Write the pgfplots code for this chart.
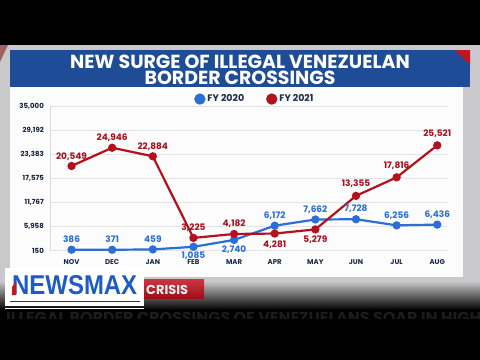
\documentclass[border=0pt]{standalone}
\usepackage{fontspec}
\setmainfont{Poppins}
\newfontfamily\arialfont{Liberation Sans}
\usepackage{graphicx}
\usepackage{pgfplots}
\pgfplotsset{compat=1.18}
\usepackage{pgfplotstable}

\definecolor{fyblue}{HTML}{2A6FD6}
\definecolor{fyred}{HTML}{B3111D}
\definecolor{lblred}{HTML}{A5101B}
\definecolor{banner}{HTML}{1F4C97}
\definecolor{navy}{HTML}{1B2B4B}
\definecolor{nmblue}{HTML}{1E5BC6}
\definecolor{crisisred}{HTML}{C3141F}
\definecolor{studio}{HTML}{C9C9CC}
\definecolor{ghost}{HTML}{1C1C1C}

\pgfplotstableread{
x y lab
0 386 386
1 371 371
2 459 459
3 1085 1,085
4 2740 2,740
5 6172 6,172
6 7662 7,662
7 7728 7,728
8 6256 6,256
9 6436 6,436
}\fyA

\pgfplotstableread{
x y lab
0 20549 20,549
1 24946 24,946
2 22884 22,884
3 3225 3,225
4 4182 4,182
5 4281 4,281
6 5279 5,279
7 13355 13,355
8 17816 17,816
9 25521 25,521
}\fyB

\pgfplotsset{
  lbl/.style 2 args={draw=none, mark=none, forget plot,
    nodes near coords, point meta=explicit symbolic,
    every node near coord/.append style={anchor=base, yshift=#2bp, inner sep=0pt, text=#1,
      font=\bfseries\fontsize{9}{10}\selectfont}},
}

\begin{document}
\begin{tikzpicture}
\useasboundingbox (0bp,0bp) rectangle (480bp,-360bp);
\begin{scope}[x=1bp,y=-1bp]
  % studio background
  \fill[black] (0,0) rectangle (480,360);
  \fill[studio] (0,45) rectangle (480,282);
  \shade[top color=studio, bottom color=black] (0,281) rectangle (480,310);
  \fill[red!45!black, opacity=0.5] (0,45) -- (8,45) -- (0,62) -- cycle;
  % white panel
  \fill[white!98!gray] (10,86) rectangle (463,277);
  % banner
  \fill[banner] (10,50) rectangle (470,86.7);
  \fill[crisisred] (455,50) -- (470,50) -- (470,65) -- cycle;
  \node[anchor=base, text=white, align=center, font=\bfseries\fontsize{19}{16.5}\selectfont, inner sep=0pt] at (240,84.5) {NEW SURGE OF ILLEGAL VENEZUELAN\\BORDER CROSSINGS};
  % ghost ticker
  \begin{scope}
    \clip (0,308) rectangle (480,318);
    \node[anchor=base west, text=ghost, font=\bfseries\fontsize{16}{16}\selectfont, inner sep=0pt] at (6,323) {ILLEGAL BORDER CROSSINGS OF VENEZUELANS SOAR IN HIGH};
  \end{scope}
  % CRISIS tag
  \shade[top color=crisisred!85!white, bottom color=crisisred!80!black] (144,279) rectangle (204,298);
  \node[anchor=base west, text=white!88!gray, font=\bfseries\fontsize{13}{13}\selectfont, inner sep=0pt] at (146,294) {CRISIS};
  % NEWSMAX logo
  \fill[white] (5,268) rectangle (144,306);
  \node[anchor=base west, text=nmblue, inner sep=0pt] at (12,295) {\resizebox{125bp}{19bp}{\arialfont\bfseries NEWSMAX}};
  \fill[crisisred] (12,287) -- (16,282) -- (16,295) -- (12,295) -- cycle;
  \draw[crisisred!70!black, line width=0.8bp] (10,301) -- (140,301);
  \draw[white, line width=0.6bp] (5,308.5) -- (144,308.5);
\end{scope}

\begin{axis}[
  at={(50bp,-250.7bp)}, anchor=south west,
  scale only axis, width=397bp, height=144.7bp,
  xmin=-0.53, xmax=9.24, ymin=150, ymax=35000,
  scaled y ticks=false,
  xtick={0,...,9},
  xticklabels={NOV,DEC,JAN,FEB,MAR,APR,MAY,JUN,JUL,AUG},
  ytick={150,5958,11767,17575,23383,29192,35000},
  yticklabels={150,{5,958},{11,767},{17,575},{23,383},{29,192},{35,000}},
  ymajorgrids, grid style={gray!22, line width=0.7bp},
  separate axis lines, axis x line*=bottom, axis y line*=left,
  x axis line style={draw=none}, y axis line style={draw=gray!30, line width=0.7bp},
  major tick length=0pt,
  xticklabel style={anchor=base, yshift=-14bp, inner sep=0pt, text=navy, font=\bfseries\fontsize{7}{7}\selectfont},
  yticklabel style={anchor=east, xshift=-6bp, inner sep=0pt, text=navy!80!black, font=\bfseries\fontsize{7}{8}\selectfont},
  clip=false,
  legend columns=2,
  legend style={at={(0.516,1.048)}, anchor=center, draw=none, fill=none, text=navy,
    font=\bfseries\fontsize{9.5}{10}\selectfont,
    /tikz/every even column/.append style={column sep=20bp}},
  legend image code/.code={\fill[#1] (0bp,0bp) circle (4.5bp);},
]
\addplot[color=fyblue, line width=2.2bp, mark=*, mark size=3bp] table[x=x, y=y] {\fyA};
\addlegendentry{FY 2020}
\addplot[color=fyred, line width=2.2bp, mark=*, mark size=3bp] table[x=x, y=y] {\fyB};
\addlegendentry{FY 2021}
% data labels
\addplot[lbl={fyblue}{7.3}] table[x=x, y=y, meta=lab] {
x y lab
0 386 386
1 371 371
2 459 459
5 6172 6,172
6 7662 7,662
7 7728 7,728
8 6256 6,256
9 6436 6,436
};
\addplot[lbl={fyblue}{-11.5}] table[x=x, y=y, meta=lab] {
x y lab
3 1085 1,085
};
\addplot[lbl={fyblue}{-13}] table[x=x, y=y, meta=lab] {
x y lab
4 2740 2,740
};
\addplot[lbl={lblred}{7}] table[x=x, y=y, meta=lab] {
x y lab
0 20549 20,549
1 24946 24,946
2 22884 22,884
3 3225 3,225
4 4182 4,182
};
\addplot[lbl={lblred}{9.2}] table[x=x, y=y, meta=lab] {
x y lab
7 13355 13,355
8 17816 17,816
9 25521 25,521
};
\addplot[lbl={lblred}{-13.5}] table[x=x, y=y, meta=lab] {
x y lab
5 4281 4,281
6 5279 5,279
};
\end{axis}
\end{tikzpicture}
\end{document}
